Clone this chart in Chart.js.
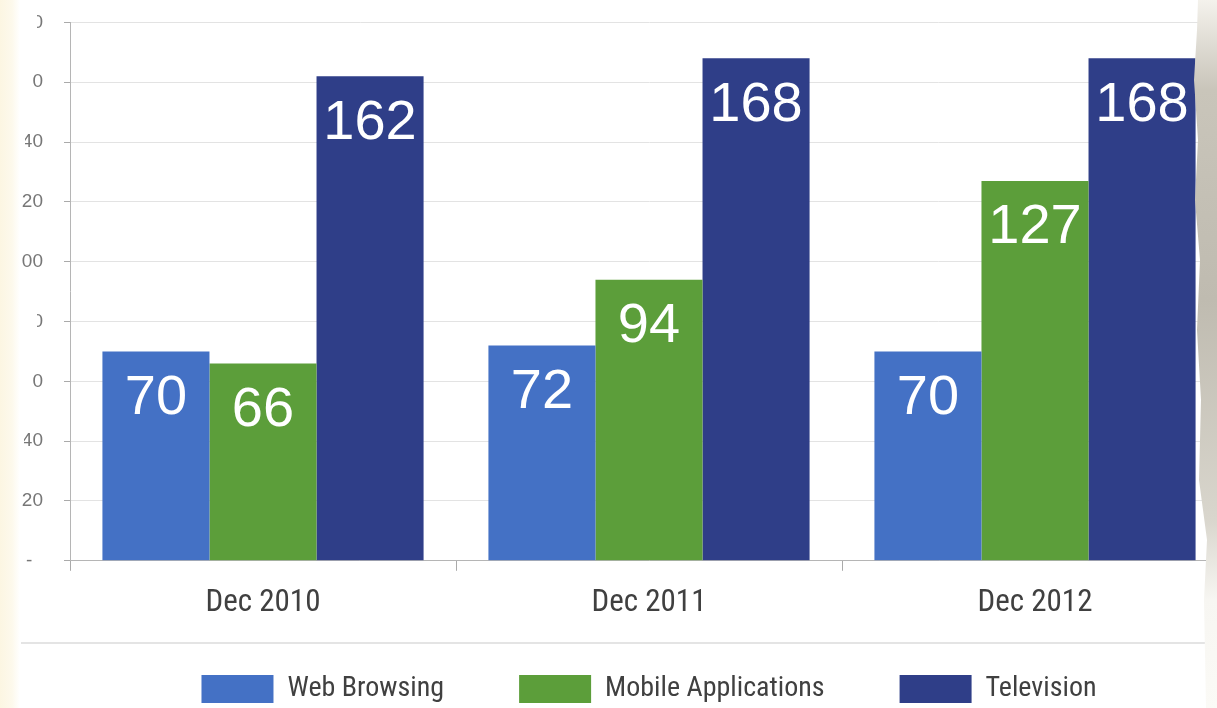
<!DOCTYPE html>
<html>
<head>
<meta charset="utf-8">
<script src="https://cdn.jsdelivr.net/npm/chart.js@4.4.1/dist/chart.umd.min.js"></script>
<style>
  html, body { margin: 0; padding: 0; }
  body { width: 1217px; height: 708px; overflow: hidden; position: relative; background: #fff; }
  #chart { position: absolute; left: -10px; top: -10px; z-index: 1; }
  .rule { position: absolute; left: 17px; top: 642px; width: 1190px; height: 2px; background: #e4e4e4; z-index: 0; }
  /* torn edges of the clipping */
  .cut { position: absolute; left: 0; top: 0; width: 40px; height: 708px; background: #fff; z-index: 2;
         clip-path: polygon(0 0, 37px 0, 37px 50px, 32px 55px, 32px 110px, 25px 115px, 25px 170px, 21px 175px,
                            21px 290px, 37px 295px, 37px 350px, 32px 355px, 32px 410px, 24px 415px, 24px 470px,
                            21px 475px, 21px 708px, 0 708px); }
  .paper-left { position: absolute; left: 0; top: 0; width: 20px; height: 708px; z-index: 3;
                background: linear-gradient(to right, #fcf6e2 0, #fdf9ec 12px, rgba(255,255,255,0) 20px); }
  .paper-right { position: absolute; left: 1192px; top: 0; width: 25px; height: 708px; z-index: 3;
                 background: linear-gradient(to bottom, #f4f2ec 0, #c9c5ba 90px, #bfbbb0 300px, #d9d6cd 520px, #f7f6f2 600px, #fbfaf6 708px);
                 clip-path: polygon(6px 0, 25px 0, 25px 708px, 14px 708px, 12px 600px, 15px 540px, 7px 480px,
                                    9px 400px, 5px 330px, 8px 260px, 3px 200px, 6px 140px, 2px 80px, 5px 30px); }
</style>
</head>
<body>
<div class="rule"></div>
<canvas id="chart" width="1238" height="759"></canvas>
<div class="cut"></div>
<div class="paper-left"></div>
<div class="paper-right"></div>
<script>
// chart data
const categories = ['Dec 2010', 'Dec 2011', 'Dec 2012'];
const webBrowsing = [70, 72, 70];
const mobileApps = [66, 94, 127];
const television = [162, 168, 168];
const yMin = 0;
const yMax = 180;
const yStep = 20;

const seriesNames = ['Web Browsing', 'Mobile Applications', 'Television'];
const seriesColors = ['#4471c5', '#5c9e3a', '#2f3e88'];

// white value labels near the top of each bar
const valueLabels = {
    id: 'valueLabels',
    afterDatasetsDraw(chart) {
        const ctx = chart.ctx;
        ctx.save();
        ctx.font = '56px "Liberation Sans", Arial, sans-serif';
        ctx.fillStyle = '#ffffff';
        ctx.textAlign = 'center';
        ctx.textBaseline = 'middle';
        chart.data.datasets.forEach((ds, i) => {
            chart.getDatasetMeta(i).data.forEach((bar, j) => {
                ctx.fillText(String(ds.data[j]), bar.x, bar.y + 47);
            });
        });
        ctx.restore();
    }
};

// legend sits closer to the axis labels than chart.js would put it
const liftLegend = {
    id: 'liftLegend',
    afterLayout(chart) {
        chart.legend.top -= 36;
        chart.legend.bottom -= 36;
    }
};

const narrow = '"Roboto Condensed", "Liberation Sans", sans-serif';

const config = {
    type: 'bar',
    data: {
        labels: categories,
        datasets: [webBrowsing, mobileApps, television].map((values, i) => ({
            label: seriesNames[i],
            data: values,
            backgroundColor: seriesColors[i],
            borderWidth: 0,
            categoryPercentage: 0.832,
            barPercentage: 1
        }))
    },
    options: {
        responsive: false,
        animation: false,
        devicePixelRatio: 1,
        layout: { padding: { top: 11, left: 0, right: 0, bottom: 0 } },
        scales: {
            x: {
                grid: {
                    offset: true,
                    drawOnChartArea: false,
                    tickLength: 10,
                    tickColor: '#aaaaaa'
                },
                border: { color: '#b5b5b5', width: 1 },
                ticks: {
                    padding: 14,
                    color: '#404040',
                    font: { family: narrow, size: 31, lineHeight: 1.2 }
                }
            },
            y: {
                min: yMin,
                max: yMax,
                afterFit(scale) { scale.width = 80; },
                grid: {
                    color: '#e3e3e3',
                    tickLength: 6,
                    tickColor: '#aaaaaa'
                },
                border: { color: '#b5b5b5', width: 1 },
                ticks: {
                    stepSize: yStep,
                    padding: 21,
                    color: '#777777',
                    font: { family: '"Liberation Sans", Arial, sans-serif', size: 19 },
                    callback: v => (v === 0 ? '-  ' : String(v))
                }
            }
        },
        plugins: {
            tooltip: { enabled: false },
            legend: {
                position: 'bottom',
                fullSize: false,
                labels: {
                    boxWidth: 72,
                    boxHeight: 28,
                    padding: 75,
                    color: '#404040',
                    font: { family: narrow, size: 28 }
                }
            }
        }
    },
    plugins: [valueLabels, liftLegend]
};

new Chart(document.getElementById('chart').getContext('2d'), config);
</script>
</body>
</html>
